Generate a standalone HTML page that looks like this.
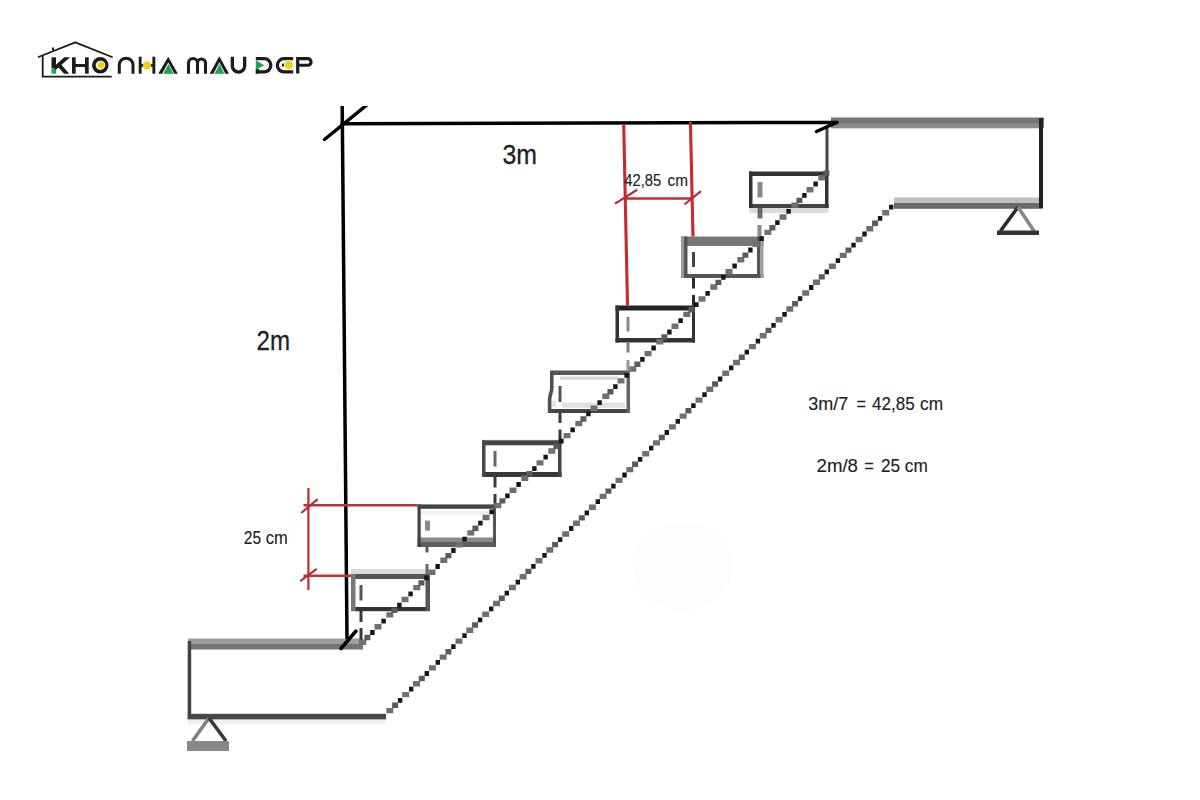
<!DOCTYPE html>
<html><head><meta charset="utf-8"><title>Stair diagram</title>
<style>
html,body{margin:0;padding:0;background:#fff;width:1200px;height:800px;overflow:hidden}
svg{display:block}
text{font-family:"Liberation Sans",sans-serif;fill:#222;stroke:#222;stroke-width:0.15}
</style></head><body>
<svg width="1200" height="800" viewBox="0 0 1200 800">
<defs><filter id="soft" x="-5%" y="-5%" width="110%" height="110%"><feGaussianBlur stdDeviation="0.5"/></filter><clipPath id="clipK"><rect x="54" y="57.3" width="17" height="16.4"/></clipPath><clipPath id="clipTop"><rect x="0" y="106" width="1200" height="700"/></clipPath></defs>
<rect width="1200" height="800" fill="#fff"/>

<!-- ===== LOGO ===== -->
<g id="logo">
  <!-- house -->
  <path d="M38.5 57 L75.3 42.3 L112 57" stroke="#1c1c1c" stroke-width="1.8" fill="none" stroke-linecap="round" stroke-linejoin="round"/>
  <rect x="52" y="47.5" width="2" height="3" fill="#1c1c1c"/>
  <path d="M42.7 56 V76.7 H111.7" stroke="#1c1c1c" stroke-width="1.8" fill="none"/>
  <!-- K -->
  <rect x="51.5" y="57.3" width="4.5" height="11" fill="#1c1c1c"/>
  <rect x="51.5" y="68.3" width="4.5" height="5.4" fill="#1ea44e"/>
  <path d="M54.5 68.6 L69.8 54.8 M57.6 63.4 L68.4 75.8" stroke="#1c1c1c" stroke-width="3.9" fill="none" clip-path="url(#clipK)"/>
  <!-- H -->
  <rect x="72" y="57.3" width="3.7" height="16.4" fill="#1c1c1c"/>
  <rect x="85" y="57.3" width="3.7" height="16.4" fill="#1c1c1c"/>
  <rect x="75" y="64" width="10.5" height="3" fill="#1c1c1c"/>
  <!-- O -->
  <circle cx="100.3" cy="65.3" r="6.45" stroke="#1c1c1c" stroke-width="3.7" fill="#fff"/>
  <circle cx="101" cy="65" r="4.3" fill="#f7eeb0"/>
  <circle cx="101" cy="65" r="3.2" fill="#f2cf14"/>
  <!-- N (arch) -->
  <path d="M119.3 73.75 V65 A6.85 6.85 0 0 1 133 65 V73.75" stroke="#1c1c1c" stroke-width="3" fill="none"/>
  <!-- H -->
  <rect x="138.7" y="56.7" width="2.9" height="17" fill="#1c1c1c"/>
  <rect x="152.4" y="56.7" width="2.9" height="17" fill="#1c1c1c"/>
  <rect x="141" y="64" width="12" height="2.8" fill="#1c1c1c"/>
  <circle cx="147" cy="65.4" r="4.2" fill="#f2cf14"/>
  <!-- A -->
  <polygon points="168.25,56.7 158.25,73.75 177.8,73.75" fill="#1c1c1c"/>
  <polygon points="168.3,62.6 162,73.75 174.4,73.75" fill="#fff"/>
  <polygon points="168.5,64 163.2,73.75 173.6,73.75" fill="#1ea44e"/>
  <!-- M -->
  <path d="M188.5 73.7 V63 A4.5 4.5 0 0 1 197.5 63 V73.7 M197.5 63 A4 4 0 0 1 205.5 63 V73.7" stroke="#1c1c1c" stroke-width="3.1" fill="none"/>
  <!-- A -->
  <polygon points="219.3,56.3 209.7,73.7 229,73.7" fill="#1c1c1c"/>
  <polygon points="219.4,62.3 213.4,73.7 225.4,73.7" fill="#fff"/>
  <polygon points="219.6,63.7 214.6,73.7 224.2,73.7" fill="#1ea44e"/>
  <!-- U -->
  <path d="M232.35 56.7 V65.9 A6.15 6.15 0 0 0 244.65 65.9 V56.7" stroke="#1c1c1c" stroke-width="3.3" fill="none"/>
  <!-- D -->
  <path d="M255.8 58.65 H264.2 A6.65 6.65 0 0 1 264.2 71.95 H255.8" stroke="#1c1c1c" stroke-width="3.3" fill="none"/>
  <rect x="255.8" y="69" width="3.2" height="4.6" fill="#1c1c1c"/>
  <polygon points="255.8,60.2 264.3,65.2 255.8,70.1" fill="#1ea44e"/>
  <!-- E -->
  <path d="M293.2 58.65 H284 A6.65 6.65 0 0 0 284 71.95 H293.2" stroke="#1c1c1c" stroke-width="3.3" fill="none"/>
  <rect x="282" y="63.6" width="8" height="2.9" fill="#1c1c1c"/>
  <circle cx="288.8" cy="64.9" r="5" fill="#f8f0c0"/>
  <circle cx="288.8" cy="64.9" r="3.8" fill="#f2cf14"/>
  <!-- P -->
  <path d="M297.7 73.6 V58.65 H307.75 A3.3 3.3 0 0 1 307.75 65.25 H297.7" stroke="#1c1c1c" stroke-width="3.2" fill="none"/>
</g>

<!-- ===== LANDINGS ===== -->
<g id="landings">
  <!-- top landing -->
  <rect x="831" y="117.5" width="213" height="5.5" fill="#757575"/>
  <rect x="831" y="123" width="213" height="5.3" fill="#8a8a8a"/>
  <rect x="894" y="197.5" width="149" height="5.5" fill="#bfbfbf"/>
  <rect x="894" y="203" width="149" height="5.8" fill="#6a6a6a"/>
  <rect x="1039" y="118" width="4" height="90" fill="#222"/>
  <rect x="825.5" y="127" width="3" height="48" fill="#444"/>
  <!-- top support -->
  <path d="M1018 207 L1000.5 231" stroke="#2a2a2a" stroke-width="3.6" fill="none"/>
  <path d="M1018 207 L1034 231" stroke="#888" stroke-width="3.6" fill="none"/>
  <rect x="997" y="230.5" width="42" height="4.5" fill="#333"/>
  <!-- bottom landing -->
  <rect x="188" y="638.5" width="175" height="5" fill="#9c9c9c"/>
  <rect x="188" y="643.5" width="175" height="6" fill="#737373"/>
  <rect x="187.7" y="641" width="3.5" height="78" fill="#424242"/>
  <rect x="187.7" y="713.8" width="198.3" height="5.6" fill="#464646"/>
  <rect x="187.7" y="720" width="198" height="4" fill="#f0f0f0"/>
  <!-- bottom support -->
  <path d="M209 718 L192.5 741" stroke="#808080" stroke-width="3.6" fill="none"/>
  <path d="M209 718 L226 741" stroke="#3a3a3a" stroke-width="3.6" fill="none"/>
  <rect x="187" y="741" width="42" height="10" fill="#888"/>
</g>

<ellipse cx="682.7" cy="566.5" rx="50" ry="44" fill="#fdfdfd"/>


<!-- ===== STEPS ===== -->
<g id="steps">
  <!-- step 1 -->
  <rect x="351" y="569" width="79" height="5" fill="#dcdcdc"/>
  <rect x="351" y="574" width="79" height="5" fill="#555"/>
  <rect x="351" y="607" width="79" height="4.2" fill="#333"/>
  <rect x="351" y="574" width="4.5" height="37" fill="#777"/>
  <rect x="425.5" y="574" width="4.5" height="37" fill="#555"/>
  <rect x="359.5" y="585" width="3" height="15.5" fill="#555"/>
  <!-- step 2 -->
  <rect x="417.5" y="504.4" width="78.5" height="4.4" fill="#444"/>
  <rect x="421" y="510.6" width="72" height="3.8" fill="#efefef"/>
  <rect x="417.5" y="537.5" width="78.5" height="4.5" fill="#8a8a8a"/>
  <rect x="417.5" y="542" width="78.5" height="5" fill="#5e5e5e"/>
  <rect x="417.5" y="504.4" width="3.2" height="42.6" fill="#444"/>
  <rect x="493" y="504.4" width="3" height="42.6" fill="#555"/>
  <rect x="425" y="520.6" width="5" height="10" fill="#888"/>
  <!-- step 3 -->
  <rect x="482" y="439" width="79.5" height="4" fill="#f2f2f2"/>
  <rect x="482" y="440.3" width="79.5" height="5" fill="#444"/>
  <rect x="482" y="472" width="79.5" height="5" fill="#3a3a3a"/>
  <rect x="482" y="440.3" width="3.5" height="36.7" fill="#484848"/>
  <rect x="558" y="440.3" width="3.5" height="36.7" fill="#444"/>
  <rect x="493.5" y="451" width="3" height="15.5" fill="#666"/>
  <!-- step 4 -->
  <rect x="550" y="370.5" width="80" height="4.5" fill="#555"/>
  <rect x="560" y="376.5" width="58" height="3.2" fill="#d6d6d6"/>
  <rect x="562" y="402.5" width="63" height="5.5" fill="#e2e2e2"/>
  <rect x="548" y="409" width="82" height="4" fill="#444"/>
  <path d="M552 401 L556 401 L556 407 L551 407 Z" fill="#e6e6e6"/>
  <path d="M551.8 371 V388 C551.8 393 549.6 394 549.6 400 V412" stroke="#505050" stroke-width="3.6" fill="none"/>
  <rect x="626.5" y="370.5" width="3.5" height="42.5" fill="#666"/>
  <rect x="558.5" y="386" width="3" height="16" fill="#555"/>
  <!-- step 5 -->
  <rect x="615.5" y="305.5" width="79.5" height="5" fill="#222"/>
  <rect x="615.5" y="338" width="79.5" height="4.5" fill="#333"/>
  <rect x="615.5" y="305.5" width="3.5" height="37" fill="#333"/>
  <rect x="692" y="305.5" width="3" height="37" fill="#333"/>
  <rect x="626.5" y="317" width="3" height="14.5" fill="#888"/>
  <!-- step 6 -->
  <rect x="681" y="236.5" width="82.5" height="9.5" fill="#777"/>
  <rect x="681" y="274" width="82.5" height="4" fill="#555"/>
  <rect x="681" y="236.5" width="3" height="41.5" fill="#9a9a9a"/>
  <rect x="684" y="236.5" width="3.5" height="41.5" fill="#555"/>
  <rect x="757" y="236.5" width="3.5" height="41.5" fill="#555"/>
  <rect x="760.5" y="236.5" width="3" height="41.5" fill="#a0a0a0"/>
  <rect x="692" y="252" width="3" height="15" fill="#444"/>
  <!-- step 7 -->
  <rect x="749" y="171.5" width="79.5" height="4.5" fill="#333"/>
  <rect x="749" y="204" width="79.5" height="4" fill="#444"/>
  <rect x="749" y="208" width="79.5" height="5" fill="#dcdcdc"/>
  <rect x="749" y="171.5" width="3.5" height="36.5" fill="#333"/>
  <rect x="825" y="171.5" width="3.5" height="36.5" fill="#333"/>
  <rect x="757.5" y="182" width="5" height="15.5" fill="#888"/>
  <!-- hidden riser lines -->
  <g>
    <rect x="359.5" y="611" width="3" height="11" fill="#383838"/>
    <rect x="359.5" y="628" width="3" height="15" fill="#383838"/>
    <rect x="425.5" y="547" width="3" height="5.5" fill="#5a5a5a"/>
    <rect x="425.5" y="564" width="3" height="10.5" fill="#6a6a6a"/>
    <rect x="493.5" y="477" width="3" height="10.5" fill="#3a3a3a"/>
    <rect x="493.5" y="494" width="3" height="10" fill="#3a3a3a"/>
    <rect x="558.5" y="413" width="3" height="10" fill="#383838"/>
    <rect x="558.5" y="429.5" width="3" height="11" fill="#383838"/>
    <rect x="626.5" y="342.5" width="3" height="10" fill="#808080"/>
    <rect x="626.5" y="360" width="3" height="10.5" fill="#999"/>
    <rect x="692" y="278" width="3" height="10.5" fill="#2c2c2c"/>
    <rect x="692" y="295" width="3" height="10.5" fill="#2c2c2c"/>
    <rect x="757.5" y="208" width="5" height="10.5" fill="#6a6a6a"/>
    <rect x="757.5" y="225" width="4" height="11.5" fill="#8a8a8a"/>
  </g>
</g>

<!-- ===== DIAGONALS ===== -->
<g id="diag" filter="url(#soft)">
  <path fill="#707070" d="M386.3 707.9h7.0v5.4h-7.0zM402.2 691.9h7.0v5.4h-7.0zM413.0 681.1h7.0v5.4h-7.0zM428.9 665.2h7.0v5.4h-7.0zM439.6 654.4h7.0v5.4h-7.0zM455.5 638.4h7.0v5.4h-7.0zM466.3 627.6h7.0v5.4h-7.0zM482.2 611.6h7.0v5.4h-7.0zM493.0 600.8h7.0v5.4h-7.0zM508.9 584.8h7.0v5.4h-7.0zM519.6 574.0h7.0v5.4h-7.0zM535.5 558.1h7.0v5.4h-7.0zM546.3 547.3h7.0v5.4h-7.0zM562.2 531.3h7.0v5.4h-7.0zM573.0 520.5h7.0v5.4h-7.0zM588.9 504.5h7.0v5.4h-7.0zM599.6 493.7h7.0v5.4h-7.0zM615.5 477.7h7.0v5.4h-7.0zM626.3 466.9h7.0v5.4h-7.0zM642.2 451.0h7.0v5.4h-7.0zM653.0 440.2h7.0v5.4h-7.0zM668.9 424.2h7.0v5.4h-7.0zM679.6 413.4h7.0v5.4h-7.0zM695.5 397.4h7.0v5.4h-7.0zM706.3 386.6h7.0v5.4h-7.0zM722.2 370.6h7.0v5.4h-7.0zM733.0 359.8h7.0v5.4h-7.0zM748.9 343.9h7.0v5.4h-7.0zM759.7 333.1h7.0v5.4h-7.0zM775.6 317.1h7.0v5.4h-7.0zM786.3 306.3h7.0v5.4h-7.0zM802.2 290.3h7.0v5.4h-7.0zM813.0 279.5h7.0v5.4h-7.0zM828.9 263.5h7.0v5.4h-7.0zM839.7 252.7h7.0v5.4h-7.0zM855.6 236.8h7.0v5.4h-7.0zM866.3 226.0h7.0v5.4h-7.0zM882.2 210.0h7.0v5.4h-7.0zM359.3 639.5h7.0v5.4h-7.0zM374.5 624.1h7.0v5.4h-7.0zM386.3 612.2h7.0v5.4h-7.0zM401.5 596.8h7.0v5.4h-7.0zM413.3 584.9h7.0v5.4h-7.0zM428.5 569.5h7.0v5.4h-7.0zM440.3 557.5h7.0v5.4h-7.0zM455.5 542.2h7.0v5.4h-7.0zM467.3 530.2h7.0v5.4h-7.0zM482.5 514.8h7.0v5.4h-7.0zM494.3 502.9h7.0v5.4h-7.0zM509.5 487.5h7.0v5.4h-7.0zM521.3 475.6h7.0v5.4h-7.0zM536.5 460.2h7.0v5.4h-7.0zM548.3 448.3h7.0v5.4h-7.0zM563.5 432.9h7.0v5.4h-7.0zM575.3 420.9h7.0v5.4h-7.0zM590.5 405.6h7.0v5.4h-7.0zM602.3 393.6h7.0v5.4h-7.0zM617.5 378.2h7.0v5.4h-7.0zM629.3 366.3h7.0v5.4h-7.0zM644.5 350.9h7.0v5.4h-7.0zM656.3 339.0h7.0v5.4h-7.0zM671.5 323.6h7.0v5.4h-7.0zM683.3 311.7h7.0v5.4h-7.0zM698.5 296.3h7.0v5.4h-7.0zM710.3 284.3h7.0v5.4h-7.0zM725.5 269.0h7.0v5.4h-7.0zM737.3 257.0h7.0v5.4h-7.0zM752.5 241.6h7.0v5.4h-7.0zM764.3 229.7h7.0v5.4h-7.0zM779.5 214.3h7.0v5.4h-7.0zM791.3 202.4h7.0v5.4h-7.0zM806.5 187.0h7.0v5.4h-7.0zM818.3 175.1h7.0v5.4h-7.0z"/>
  <path fill="#5a5a5a" d="M392.1 702.6h6.0v5.4h-6.0zM418.8 675.8h6.0v5.4h-6.0zM445.4 649.0h6.0v5.4h-6.0zM472.1 622.3h6.0v5.4h-6.0zM498.8 595.5h6.0v5.4h-6.0zM525.4 568.7h6.0v5.4h-6.0zM552.1 541.9h6.0v5.4h-6.0zM578.8 515.2h6.0v5.4h-6.0zM605.4 488.4h6.0v5.4h-6.0zM632.1 461.6h6.0v5.4h-6.0zM658.8 434.8h6.0v5.4h-6.0zM685.4 408.1h6.0v5.4h-6.0zM712.1 381.3h6.0v5.4h-6.0zM738.8 354.5h6.0v5.4h-6.0zM765.5 327.7h6.0v5.4h-6.0zM792.1 301.0h6.0v5.4h-6.0zM818.8 274.2h6.0v5.4h-6.0zM845.5 247.4h6.0v5.4h-6.0zM872.1 220.6h6.0v5.4h-6.0zM364.4 634.8h6.0v5.4h-6.0zM391.4 607.5h6.0v5.4h-6.0zM418.4 580.2h6.0v5.4h-6.0zM445.4 552.9h6.0v5.4h-6.0zM472.4 525.6h6.0v5.4h-6.0zM499.4 498.2h6.0v5.4h-6.0zM526.4 470.9h6.0v5.4h-6.0zM553.4 443.6h6.0v5.4h-6.0zM580.4 416.3h6.0v5.4h-6.0zM607.4 389.0h6.0v5.4h-6.0zM634.4 361.6h6.0v5.4h-6.0zM661.4 334.3h6.0v5.4h-6.0zM688.4 307.0h6.0v5.4h-6.0zM715.4 279.7h6.0v5.4h-6.0zM742.4 252.4h6.0v5.4h-6.0zM769.4 225.0h6.0v5.4h-6.0zM796.4 197.7h6.0v5.4h-6.0zM823.4 170.4h6.0v5.4h-6.0z"/>
  <path fill="#121212" d="M397.9 697.9h4.4v4.8h-4.4zM409.0 686.8h4.4v4.8h-4.4zM424.6 671.1h4.4v4.8h-4.4zM435.6 660.0h4.4v4.8h-4.4zM451.2 644.3h4.4v4.8h-4.4zM462.3 633.2h4.4v4.8h-4.4zM477.9 617.5h4.4v4.8h-4.4zM489.0 606.4h4.4v4.8h-4.4zM504.6 590.8h4.4v4.8h-4.4zM515.6 579.7h4.4v4.8h-4.4zM531.2 564.0h4.4v4.8h-4.4zM542.3 552.9h4.4v4.8h-4.4zM557.9 537.2h4.4v4.8h-4.4zM569.0 526.1h4.4v4.8h-4.4zM584.6 510.4h4.4v4.8h-4.4zM595.6 499.3h4.4v4.8h-4.4zM611.2 483.7h4.4v4.8h-4.4zM622.3 472.6h4.4v4.8h-4.4zM637.9 456.9h4.4v4.8h-4.4zM649.0 445.8h4.4v4.8h-4.4zM664.6 430.1h4.4v4.8h-4.4zM675.6 419.0h4.4v4.8h-4.4zM691.2 403.3h4.4v4.8h-4.4zM702.3 392.2h4.4v4.8h-4.4zM717.9 376.6h4.4v4.8h-4.4zM729.0 365.4h4.4v4.8h-4.4zM744.6 349.8h4.4v4.8h-4.4zM755.7 338.7h4.4v4.8h-4.4zM771.3 323.0h4.4v4.8h-4.4zM782.3 311.9h4.4v4.8h-4.4zM797.9 296.2h4.4v4.8h-4.4zM809.0 285.1h4.4v4.8h-4.4zM824.6 269.5h4.4v4.8h-4.4zM835.7 258.3h4.4v4.8h-4.4zM851.3 242.7h4.4v4.8h-4.4zM862.3 231.6h4.4v4.8h-4.4zM877.9 215.9h4.4v4.8h-4.4zM889.0 204.8h4.4v4.8h-4.4zM370.2 630.1h4.4v4.8h-4.4zM381.4 618.7h4.4v4.8h-4.4zM397.2 602.8h4.4v4.8h-4.4zM408.4 591.4h4.4v4.8h-4.4zM424.2 575.4h4.4v4.8h-4.4zM435.4 564.1h4.4v4.8h-4.4zM451.2 548.1h4.4v4.8h-4.4zM462.4 536.8h4.4v4.8h-4.4zM478.2 520.8h4.4v4.8h-4.4zM489.4 509.5h4.4v4.8h-4.4zM505.2 493.5h4.4v4.8h-4.4zM516.4 482.1h4.4v4.8h-4.4zM532.2 466.2h4.4v4.8h-4.4zM543.4 454.8h4.4v4.8h-4.4zM559.2 438.8h4.4v4.8h-4.4zM570.4 427.5h4.4v4.8h-4.4zM586.2 411.5h4.4v4.8h-4.4zM597.4 400.2h4.4v4.8h-4.4zM613.2 384.2h4.4v4.8h-4.4zM624.4 372.9h4.4v4.8h-4.4zM640.2 356.9h4.4v4.8h-4.4zM651.4 345.6h4.4v4.8h-4.4zM667.2 329.6h4.4v4.8h-4.4zM678.4 318.2h4.4v4.8h-4.4zM694.2 302.2h4.4v4.8h-4.4zM705.4 290.9h4.4v4.8h-4.4zM721.2 274.9h4.4v4.8h-4.4zM732.4 263.6h4.4v4.8h-4.4zM748.2 247.6h4.4v4.8h-4.4zM759.4 236.3h4.4v4.8h-4.4zM775.2 220.3h4.4v4.8h-4.4zM786.4 209.0h4.4v4.8h-4.4zM802.2 193.0h4.4v4.8h-4.4zM813.4 181.6h4.4v4.8h-4.4z"/>
</g>

<!-- ===== MAIN DIMENSION LINES ===== -->
<g id="dims" fill="none" stroke="#000" stroke-width="3.5" stroke-linecap="round">
  <line x1="342.2" y1="106" x2="347" y2="639" stroke-linecap="butt" clip-path="url(#clipTop)"/>
  <line x1="342" y1="123.8" x2="837" y2="122.4"/>
  <line x1="324.5" y1="139.5" x2="368" y2="104" clip-path="url(#clipTop)"/>
  <line x1="341" y1="648.5" x2="356" y2="631"/>
  <line x1="816.5" y1="131.5" x2="836.5" y2="122.5"/>
</g>

<!-- ===== RED DIMENSIONS ===== -->
<g id="red" fill="none">
  <line x1="623.7" y1="124" x2="627.5" y2="305.5" stroke="#c62a2e" stroke-width="3.1"/>
  <line x1="690.4" y1="122" x2="693" y2="236.5" stroke="#c62a2e" stroke-width="3.1"/>
  <line x1="625" y1="198.5" x2="692" y2="198.5" stroke="#c02e30" stroke-width="2.7"/>
  <line x1="615" y1="203.6" x2="637.2" y2="189.8" stroke="#ac2e40" stroke-width="2.2"/>
  <line x1="684.4" y1="204.5" x2="701" y2="191.2" stroke="#ac2e40" stroke-width="2.2"/>
  <line x1="308.4" y1="488" x2="308.4" y2="590" stroke="#c03434" stroke-width="2.3"/>
  <line x1="303.5" y1="505.2" x2="417.5" y2="505.2" stroke="#b8343c" stroke-width="2.5"/>
  <line x1="303.5" y1="575.7" x2="351" y2="575.7" stroke="#c03438" stroke-width="2.5"/>
  <line x1="301.2" y1="513" x2="317.7" y2="499.2" stroke="#ac2e44" stroke-width="2.2"/>
  <line x1="300.2" y1="581.2" x2="316.7" y2="568.8" stroke="#ac2e44" stroke-width="2.2"/>
</g>

<!-- ===== TEXT ===== -->
<g id="texts">
  <text style="stroke-width:0.3" x="502.5" y="163.5" font-size="27.8" textLength="34.5" lengthAdjust="spacingAndGlyphs">3m</text>
  <text style="stroke-width:0.3" x="256.5" y="349.8" font-size="27" textLength="33.5" lengthAdjust="spacingAndGlyphs">2m</text>
  <text x="624.3" y="185.7" font-size="17.3" textLength="37" lengthAdjust="spacingAndGlyphs">42,85</text>
  <text x="667.5" y="185.7" font-size="17.3" textLength="20.5" lengthAdjust="spacingAndGlyphs">cm</text>
  <text x="243.8" y="543.8" font-size="17.7" textLength="17.3" lengthAdjust="spacingAndGlyphs">25</text>
  <text x="265.8" y="543.8" font-size="17.7" textLength="22" lengthAdjust="spacingAndGlyphs">cm</text>
  <text x="808.3" y="410.2" font-size="19" textLength="40" lengthAdjust="spacingAndGlyphs">3m/7</text>
  <text x="856.4" y="410.2" font-size="19" textLength="9.6" lengthAdjust="spacingAndGlyphs">=</text>
  <text x="872" y="410.2" font-size="19" textLength="42.6" lengthAdjust="spacingAndGlyphs">42,85</text>
  <text x="920" y="410.2" font-size="19" textLength="23" lengthAdjust="spacingAndGlyphs">cm</text>
  <text x="816.5" y="472" font-size="18.8" textLength="41.5" lengthAdjust="spacingAndGlyphs">2m/8</text>
  <text x="864.2" y="472" font-size="18.8" textLength="9.6" lengthAdjust="spacingAndGlyphs">=</text>
  <text x="881" y="472" font-size="18.8" textLength="19.2" lengthAdjust="spacingAndGlyphs">25</text>
  <text x="904.8" y="472" font-size="18.8" textLength="23" lengthAdjust="spacingAndGlyphs">cm</text>
</g>
</svg>
</body></html>
